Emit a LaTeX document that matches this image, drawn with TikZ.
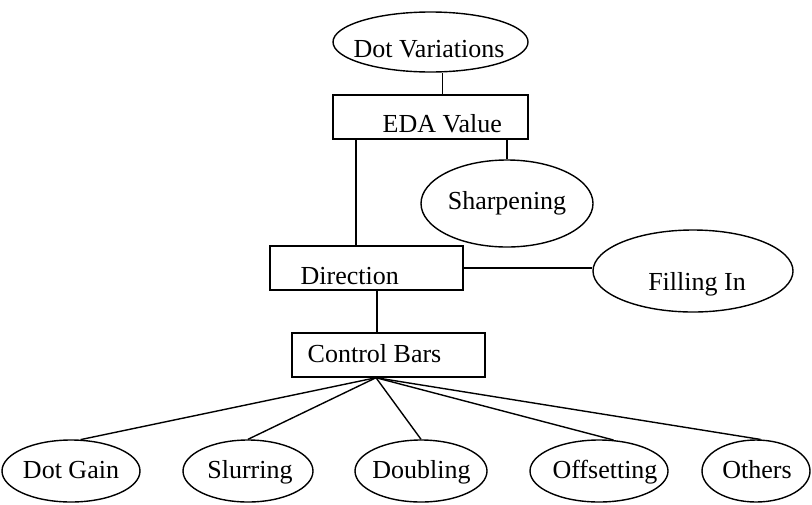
\documentclass[tikz,border=0pt]{standalone}
\usepackage{fontspec}
\setmainfont{Liberation Serif}
\usetikzlibrary{shapes.geometric}

\begin{document}
\begin{tikzpicture}[x=0.5pt,y=-0.5pt,font=\fontsize{13}{15}\selectfont,line width=0.7pt,
  box/.style={draw,rectangle,inner sep=0pt,minimum height=22pt},
  oval/.style={draw,ellipse,inner sep=0pt},
  lbl/.style={inner sep=0pt}]
\useasboundingbox (0,0) rectangle (812,504);
\node[oval,minimum width=97.5pt,minimum height=30pt] (dv) at (430.5,42) {};
\node[box,minimum width=97.5pt] (eda) at (430.5,117) {};
\node[oval,minimum width=86pt,minimum height=43.5pt] (sh) at (507,203.5) {};
\node[box,minimum width=96.5pt] (dir) at (366.5,268) {};
\node[oval,minimum width=100pt,minimum height=41pt] (fi) at (693,271) {};
\node[box,minimum width=96.5pt] (cb) at (388.5,355) {};
\node[oval,minimum width=69pt,minimum height=31pt] (dg) at (71,471) {};
\node[oval,minimum width=65pt,minimum height=31pt] (sl) at (248,471) {};
\node[oval,minimum width=66pt,minimum height=31pt] (db) at (421,471) {};
\node[oval,minimum width=69pt,minimum height=31pt] (os) at (599,471) {};
\node[oval,minimum width=54pt,minimum height=31pt] (ot) at (756,471) {};
\node[lbl,anchor=base] (dvtext) at (429,57) {Dot Variations};
\node[lbl,anchor=base west] (edatext) at (382,132) {EDA Value};
\node[lbl,anchor=base] (shtext) at (507,209) {Sharpening};
\node[lbl,anchor=base west] (dirtext) at (300,284) {Direction};
\node[lbl,anchor=base] (fitext) at (697,290) {Filling In};
\node[lbl,anchor=base west] (cbtext) at (307,362) {Control Bars};
\node[lbl,anchor=base] (dgtext) at (71,478) {Dot Gain};
\node[lbl,anchor=base] (sltext) at (250,478) {Slurring};
\node[lbl,anchor=base] (dbtext) at (421.5,478) {Doubling};
\node[lbl,anchor=base] (ostext) at (605,478) {Offsetting};
\node[lbl,anchor=base] (ottext) at (757,478) {Others};
\draw ([xshift=6pt]eda.north) -- ([xshift=6pt]eda.north |- dv.south);
\draw ([xshift=-37.25pt]eda.south) -- ([xshift=-37.25pt]eda.south |- dir.north);
\draw (sh.north) -- (sh.north |- eda.south);
\draw (dir.east) -- (dir.east -| fi.west);
\draw ([xshift=5.25pt]dir.south) -- ([xshift=5.25pt]dir.south |- cb.north);
\coordinate (hub) at ([xshift=-6.25pt]cb.south);
\draw (hub) -- (dg.73);
\draw (hub) -- (sl.north);
\draw (hub) -- (db.north);
\draw (hub) -- (os.65);
\draw (hub) -- (ot.82);
\end{tikzpicture}
\end{document}
